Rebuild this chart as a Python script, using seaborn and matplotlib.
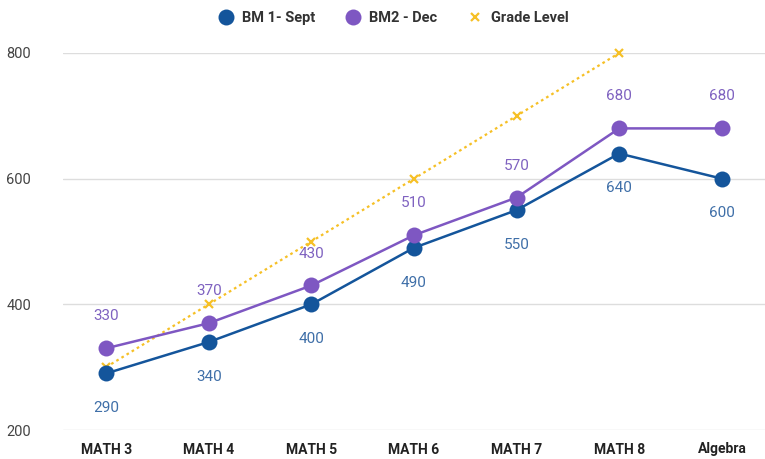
import numpy as np
import pandas as pd
import matplotlib
matplotlib.use("Agg")
import matplotlib.pyplot as plt
import seaborn as sns

categories = ["MATH 3", "MATH 4", "MATH 5", "MATH 6", "MATH 7", "MATH 8", "Algebra"]
bm1_sept = [290, 340, 400, 490, 550, 640, 600]
bm2_dec = [330, 370, 430, 510, 570, 680, 680]
grade_level = [300, 400, 500, 600, 700, 800]
y_ticks = [200, 400, 600, 800]

BLUE = "#14559b"
PURPLE = "#7e57c2"
YELLOW = "#f6c026"
BLUE_LBL = "#3f6fa8"
PURPLE_LBL = "#7f62c0"


def main():
    sns.set_style("white")
    plt.rcParams["font.family"] = ["Roboto", "DejaVu Sans"]

    fig = plt.figure(figsize=(7.65, 4.59), dpi=100)
    ax = fig.add_axes([63 / 765, 29 / 459, (765 - 63) / 765, (430 - 53) / 459])

    x = np.arange(len(categories))
    sns.lineplot(x=x, y=bm1_sept, ax=ax, color=BLUE, marker="o", markersize=11.5,
                 markeredgewidth=0, linewidth=1.8, label="BM 1- Sept", clip_on=False, zorder=4)
    sns.lineplot(x=x, y=bm2_dec, ax=ax, color=PURPLE, marker="o", markersize=11.5,
                 markeredgewidth=0, linewidth=1.8, label="BM2 - Dec", clip_on=False, zorder=4)
    sns.lineplot(x=x[:len(grade_level)], y=grade_level, ax=ax, color=YELLOW, marker="x",
                 markersize=5.5, markeredgewidth=1.6, markeredgecolor=YELLOW,
                 linewidth=1.6, linestyle=(0, (1.2, 1.5)),
                 label="Grade Level", clip_on=False, zorder=3)

    # value labels
    for i, v in enumerate(bm1_sept):
        ax.annotate(str(v), (i, v), xytext=(0, -25), textcoords="offset points",
                    ha="center", va="center", fontsize=11, color=BLUE_LBL)
    for i, v in enumerate(bm2_dec):
        ax.annotate(str(v), (i, v), xytext=(0, 23), textcoords="offset points",
                    ha="center", va="center", fontsize=11, color=PURPLE_LBL)

    ax.set_xlim(-0.42, 6.42)
    ax.set_ylim(200, 800)
    ax.set_yticks(y_ticks)
    ax.set_yticklabels([str(t) for t in y_ticks], fontsize=10.5, color="#444444")
    ax.set_xticks(x)
    ax.set_xticklabels(categories, fontsize=10, fontweight="bold", color="#222222")
    ax.grid(axis="y", color="#dddddd", linewidth=1)
    ax.grid(axis="x", visible=False)
    ax.tick_params(axis="y", length=15, width=1.5, color="#444444", pad=8)
    ax.tick_params(axis="x", length=0, pad=9)
    for s in ax.spines.values():
        s.set_visible(False)
    ax.set_xlabel("")
    ax.set_ylabel("")

    leg = ax.legend(loc="upper center", bbox_to_anchor=(0.47, 1.145), ncol=3,
                    frameon=False, fontsize=10.5, handletextpad=0.5, columnspacing=2.0,
                    handlelength=1.2)
    for t in leg.get_texts():
        t.set_fontweight("bold")
        t.set_color("#333333")
    for h in leg.legend_handles:
        h.set_linestyle("none")

    fig.savefig("out.png", dpi=100)
    plt.close(fig)


if __name__ == "__main__":
    main()
